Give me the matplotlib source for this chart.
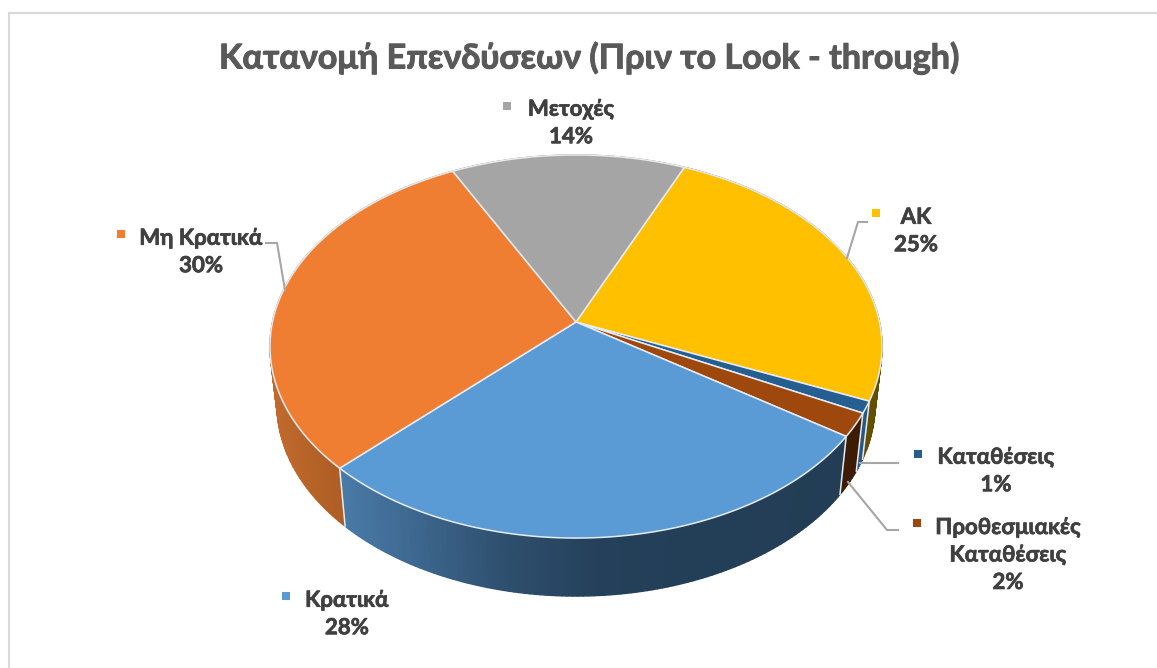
import numpy as np
import matplotlib
matplotlib.use("Agg")
import matplotlib.pyplot as plt
import matplotlib.patheffects as pe
from matplotlib.collections import PolyCollection
from matplotlib.colors import to_rgb
from matplotlib.patches import Rectangle

# Portfolio shares, clockwise from the first slice
categories = ["ΑΚ", "Καταθέσεις", "Προθεσμιακές\nΚαταθέσεις", "Κρατικά", "Μη Κρατικά", "Μετοχές"]
shares = [25, 1, 2, 28, 30, 14]
title_text = "Κατανομή Επενδύσεων (Πριν το Look - through)"

top_colors = ["#FFC000", "#255E91", "#9E480E", "#5B9BD5", "#F07E32", "#A5A5A5"]
# Rim shading per slice as (x, colour) stops
rim_stops = [
    [(840, "#6E5600"), (885, "#5E4A00")],
    [(840, "#2A5F8F"), (885, "#234F78")],
    [(830, "#3D1C05"), (870, "#3D1C05")],
    [(340, "#4A7CA8"), (400, "#406C95"), (500, "#2F506F"), (600, "#24405A"), (850, "#223D54")],
    [(270, "#C26B2E"), (345, "#AE5D24")],
    [(500, "#777777"), (700, "#777777")],
]

label_pos = [(916, 231), (996, 471), (1008, 555), (347, 614), (201, 252), (571, 123)]
marker_pos = [(876, 213), (918, 454), (917, 523), (286, 596), (121, 234), (507, 106)]
leaders = [
    ([847, 858, 867], [258, 222, 222]),
    ([860, 898], [463, 463]),
    ([848, 887, 898], [482, 530, 530]),
    ([], []),
    ([285, 277, 266], [290, 243, 243]),
    ([], []),
]

START_DEG = 23.5
CX, CY = 576.0, 322.0
RADIUS, TILT, PERSP = 303.5, 188.4, 0.128
RIM_DROP, RIM_SHRINK_X = 58.0, 0.977


def project(theta_deg):
    """Perspective view of the unit circle; angles run clockwise from the top."""
    t = np.radians(theta_deg)
    x, y = np.sin(t), np.cos(t)
    w = 1 + PERSP * y
    return RADIUS * x / w, -TILT * y / w


def top_rim(theta_deg):
    dx, dy = project(theta_deg)
    return CX + dx, CY + dy


def bottom_rim(theta_deg):
    dx, dy = project(theta_deg)
    return CX + RIM_SHRINK_X * dx, CY + dy + RIM_DROP


def rim_color(stops, x):
    xs = [s[0] for s in stops]
    rgb = np.array([to_rgb(s[1]) for s in stops])
    return tuple(np.interp(x, xs, rgb[:, i]) for i in range(3))


plt.rcParams["font.family"] = ["Lato", "Open Sans", "DejaVu Sans"]
plt.rcParams["font.weight"] = "bold"

fig = plt.figure(figsize=(11.57, 6.68), dpi=100, facecolor="white")
ax = fig.add_axes([0, 0, 1, 1])
ax.set_xlim(0, 1157)
ax.set_ylim(668, 0)
ax.axis("off")

# Frame: only the top and left edges fall inside the canvas
ax.plot([9, 1157], [13, 13], color="#D9D9D9", lw=1.5, zorder=1)
ax.plot([9, 9], [13, 668], color="#D9D9D9", lw=1.5, zorder=1)

edges = START_DEG + np.concatenate([[0], np.cumsum(shares)]) * 3.6
SEP = "#E6ECF2"

# Rim strips, drawn first so the top face hides the back of the rim
for i in range(len(shares)):
    th = np.linspace(edges[i], edges[i + 1], max(6, int(shares[i] * 4)))
    xt, yt = top_rim(th)
    xb, yb = bottom_rim(th)
    quads = [
        [(xt[j], yt[j]), (xt[j + 1], yt[j + 1]), (xb[j + 1], yb[j + 1]), (xb[j], yb[j])]
        for j in range(len(th) - 1)
    ]
    colors = [rim_color(rim_stops[i], 0.5 * (xb[j] + xb[j + 1])) for j in range(len(th) - 1)]
    ax.add_collection(PolyCollection(quads, facecolors=colors, edgecolors=colors, linewidths=1.0, zorder=2))

# Light seams between the visible rim pieces
for e in edges:
    a = e % 360
    if 95 < a < 272:
        xt, yt = top_rim(a)
        xb, yb = bottom_rim(a)
        ax.plot([xt, xb], [yt, yb], color=SEP, lw=1.1, zorder=3)

# Top face
for i in range(len(shares)):
    th = np.linspace(edges[i], edges[i + 1], max(8, int(shares[i] * 8)))
    xt, yt = top_rim(th)
    ax.fill(
        np.concatenate([[CX], xt]), np.concatenate([[CY], yt]),
        facecolor=top_colors[i], edgecolor=SEP, lw=1.1, joinstyle="round", zorder=4,
    )

# Leader lines, markers and data labels
for i, name in enumerate(categories):
    if leaders[i][0]:
        ax.plot(leaders[i][0], leaders[i][1], color="#A6A6A6", lw=1.5, zorder=5, solid_joinstyle="miter")
    mx, my = marker_pos[i]
    ax.add_patch(Rectangle((mx - 4, my - 4), 8, 8, facecolor=top_colors[i], edgecolor="none", zorder=5))
    lx, ly = label_pos[i]
    ax.text(lx, ly, f"{name}\n{shares[i]}%", ha="center", va="center", fontsize=16,
            fontweight="bold", color="#404040", linespacing=1.38, zorder=6,
            path_effects=[pe.withStroke(linewidth=0.5, foreground="#404040")])

ax.text(589, 58, title_text, ha="center", va="center", fontsize=24.6, fontweight="bold", color="#595959", zorder=6,
        path_effects=[pe.withStroke(linewidth=0.7, foreground="#595959")])

fig.savefig("out.png", dpi=100, facecolor="white")
